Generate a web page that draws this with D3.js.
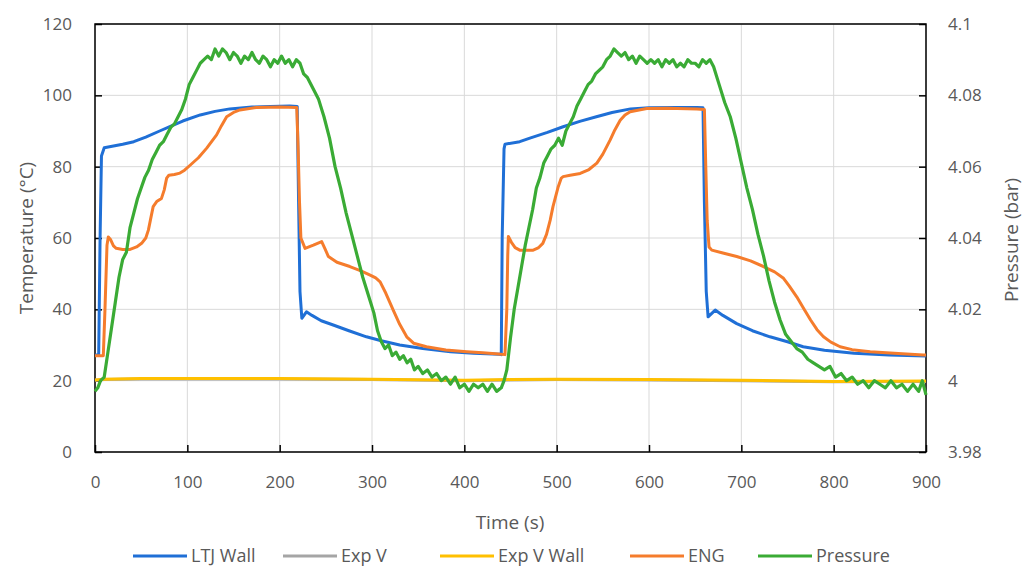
<!DOCTYPE html>
<html><head><meta charset="utf-8">
<script src="https://cdn.jsdelivr.net/npm/d3@7"></script>
<style>body{margin:0;background:#fff}svg{display:block}text{font-family:"Open Sans",sans-serif;fill:#595959}</style>
</head><body>
<svg id="c" width="1024" height="568"></svg>
<script>
const xTicks=[0,100,200,300,400,500,600,700,800,900];
const yTicks=[0,20,40,60,80,100,120];
const pTicks=[3.98,4.00,4.02,4.04,4.06,4.08,4.10];
const pTickLabels=["3.98","4","4.02","4.04","4.06","4.08","4.1"];
const seriesNames=["LTJ Wall","Exp V","Exp V Wall","ENG","Pressure"];
const seriesColors=["#1f6fd6","#a5a5a5","#ffc000","#f57c2c","#3aab35"];

const ltjT=[0,4,5.5,7,10,20,30,42,55,70,81,95,114,130,146,170,190,211,219,220.5,222,224,229,235,245,258,275,294,310,330,355,385,410,438,440,441,443,444,460,471,490,507,525,543,560,580,600,630,652,658.5,660,662,664,671.7,680,695,712,731,750,767,790,822,860,900];
const ltjV=[27.2,27.2,60,83,85.3,85.8,86.3,87,88.3,90,91.2,92.8,94.5,95.5,96.2,96.7,96.9,97,96.9,70,45,37.5,39.3,38.3,36.8,35.6,34,32.3,31.2,30,29,28.1,27.7,27.4,27.3,60,85,86.3,87,88,89.6,91.2,92.7,94,95.2,96.2,96.5,96.6,96.6,96.5,70,45,37.9,39.8,38.3,36,34,32.3,30.9,29.5,28.5,27.7,27.2,26.9];

const expVT=[0,10,50,100,200,300,400,450,500,600,700,800,900];
const expVV=[20.1,20.3,20.5,20.5,20.5,20.3,20.0,20.2,20.3,20.2,20.0,19.7,19.8];
const expVWallT=[0,10,50,100,200,300,400,450,500,600,700,800,900];
const expVWallV=[20.2,20.4,20.6,20.6,20.6,20.4,20.1,20.3,20.4,20.3,20.1,19.8,19.9];

const engT=[0,9,10.8,13,14.4,17,20,23,30,38,45,50.5,55,57.8,60,63,66.8,72,75,77.6,80,86,92,97,103,112,121,131.7,137,142.6,150,157,175,200,218.5,220,221.5,223,227.5,236.5,245.5,249,252.8,262,276,288,298,304,308.8,315,323,330,337.6,345,359,380,402.7,420,437,444,446,447,447.7,451,455,460,474.6,480,485,489,493,496,501.7,505,507,514.6,525.5,535,543.5,550,558,563,568.8,574,579.6,597.6,620,652,660,661.5,663,665,668,680,695,710,724,736,745.7,752,760,768,775,782,789,797,807,820,839.6,870,897,900];
const engV=[27,27,40,58,60.3,59.5,57.8,57.1,56.8,56.8,57.5,58.5,60,62.2,65,68.8,70.2,71.1,73.5,76.8,77.6,77.8,78.2,79,80.4,82.5,85.2,88.9,91.5,94,95.2,95.9,96.6,96.7,96.6,85,70,60,57.1,58,59,57,54.8,53.2,52,50.8,49.6,48.8,47.7,44.5,39.8,35.8,32.3,30.5,29.5,28.6,28.1,27.8,27.5,27.3,40,55,60.4,58.8,57.3,56.6,56.6,57.2,58.5,61,65,68.8,74.4,76.8,77.2,77.6,78.1,79.2,81,83.5,87.5,90.3,93,94.5,95.4,96.3,96.4,96.2,96,80,65,57.5,56.6,55.8,54.8,53.6,52,50.5,48.7,46.5,43.5,40,37,34.3,32.3,30.8,29.5,28.7,28.1,27.6,27.2,27.2];

const presT=[0,3,6,10,14,18,22,26,30,34,38,42,46,50,54,58,62,66,70,74,78,82,86,90,94,98,102,106,110,114,118,122,126,130,134,138,142,146,150,154,158,162,166,170,174,178,182,186,190,194,198,202,206,210,214,218,222,226,230,236,242,248,254,260,266,272,278,284,290,296,302,306,310,314,318,322,326,330,334,338,342,346,350,355,360,365,370,375,380,385,390,395,400,405,410,415,420,425,430,435,440,443,446,450,454,458,462,466,470,474,478,482,486,490,494,498,502,506,510,514,518,522,526,530,534,538,542,546,550,554,558,562,566,570,574,578,582,586,590,594,598,602,606,610,614,618,622,626,630,634,638,642,646,650,654,658,662,666,670,676,682,688,694,700,706,712,718,724,730,736,742,748,754,760,766,772,778,784,790,796,802,808,814,820,826,832,838,844,850,856,862,868,874,880,886,892,896,900];
const presV=[3.997,3.998,4.000,4.001,4.008,4.015,4.022,4.029,4.034,4.036,4.043,4.047,4.051,4.054,4.057,4.059,4.062,4.064,4.066,4.067,4.069,4.071,4.072,4.074,4.076,4.079,4.083,4.085,4.087,4.089,4.090,4.091,4.090,4.093,4.091,4.093,4.092,4.090,4.092,4.091,4.089,4.091,4.090,4.092,4.090,4.089,4.091,4.090,4.088,4.090,4.089,4.091,4.089,4.090,4.088,4.090,4.089,4.086,4.085,4.082,4.079,4.074,4.068,4.060,4.054,4.047,4.041,4.035,4.029,4.024,4.019,4.014,4.011,4.009,4.010,4.007,4.008,4.006,4.007,4.005,4.006,4.003,4.004,4.002,4.003,4.001,4.002,4.000,4.001,3.999,4.001,3.998,3.999,3.997,3.999,3.998,3.999,3.997,3.999,3.997,3.998,4.000,4.003,4.012,4.020,4.026,4.032,4.038,4.043,4.048,4.054,4.057,4.061,4.063,4.065,4.066,4.068,4.066,4.070,4.072,4.074,4.077,4.079,4.081,4.083,4.084,4.086,4.087,4.088,4.090,4.091,4.093,4.092,4.091,4.092,4.090,4.091,4.089,4.091,4.090,4.089,4.090,4.089,4.090,4.088,4.090,4.089,4.090,4.088,4.089,4.088,4.090,4.089,4.089,4.088,4.090,4.089,4.090,4.088,4.083,4.078,4.074,4.068,4.061,4.054,4.048,4.041,4.035,4.028,4.022,4.017,4.013,4.011,4.009,4.008,4.006,4.005,4.004,4.003,4.004,4.001,4.002,4.000,4.001,3.999,4.000,3.998,4.000,3.999,3.998,4.000,3.998,3.999,3.997,3.999,3.997,4.000,3.996];

const svg=d3.select("#c");
const L=95,R=926,T=24,B=452;
const x=d3.scaleLinear().domain([0,900]).range([L,R]);
const y=d3.scaleLinear().domain([0,120]).range([B,T]);
const yp=d3.scaleLinear().domain([3.98,4.10]).range([B,T]);

// grid
const g=svg.append("g");
g.selectAll(".hg").data(yTicks).join("line").attr("x1",L).attr("x2",R).attr("y1",d=>y(d)).attr("y2",d=>y(d)).attr("stroke","#d9d9d9").attr("stroke-width",1);
g.selectAll(".vg").data(xTicks).join("line").attr("y1",T).attr("y2",B).attr("x1",d=>x(d)).attr("x2",d=>x(d)).attr("stroke","#d9d9d9").attr("stroke-width",1);

// axes
const ax=svg.append("g").attr("transform",`translate(0,${B})`).call(d3.axisBottom(x).tickValues(xTicks).tickSize(-7).tickPadding(24).tickFormat(d3.format("d")));
const ay=svg.append("g").attr("transform",`translate(${L},0)`).call(d3.axisLeft(y).tickValues(yTicks).tickSize(-7).tickPadding(23));
const ar=svg.append("g").attr("transform",`translate(${R},0)`).call(d3.axisRight(yp).tickValues(pTicks).tickSize(-7).tickPadding(22).tickFormat((d,i)=>pTickLabels[i]));
[ax,ay,ar].forEach(a=>{a.select(".domain").remove();a.selectAll("line").attr("stroke","#000").attr("stroke-width",1.5);a.selectAll("text").attr("font-size",17).attr("fill","#595959").attr("font-family","Open Sans, sans-serif");});
svg.append("rect").attr("x",L).attr("y",T).attr("width",R-L).attr("height",B-T).attr("fill","none").attr("stroke","#000").attr("stroke-width",1.5);

// lines
const mk=(ts,vs)=>ts.map((t,i)=>[t,vs[i]]);
const lineT=d3.line().x(d=>x(d[0])).y(d=>y(d[1]));
const lineP=d3.line().x(d=>x(d[0])).y(d=>yp(d[1]));
const plot=svg.append("g");
plot.append("path").datum(mk(expVT,expVV)).attr("d",lineT).attr("fill","none").attr("stroke",seriesColors[1]).attr("stroke-width",3);
plot.append("path").datum(mk(expVWallT,expVWallV)).attr("d",lineT).attr("fill","none").attr("stroke",seriesColors[2]).attr("stroke-width",3);
plot.append("path").datum(mk(ltjT,ltjV)).attr("d",lineT).attr("fill","none").attr("stroke",seriesColors[0]).attr("stroke-width",3).attr("stroke-linejoin","round");
plot.append("path").datum(mk(engT,engV)).attr("d",lineT).attr("fill","none").attr("stroke",seriesColors[3]).attr("stroke-width",3).attr("stroke-linejoin","round");
plot.append("path").datum(mk(presT,presV)).attr("d",lineP).attr("fill","none").attr("stroke",seriesColors[4]).attr("stroke-width",3.2).attr("stroke-linejoin","round");

// axis titles
svg.append("text").attr("x",510).attr("y",529).attr("text-anchor","middle").attr("font-size",19).text("Time (s)");
svg.append("text").attr("transform","translate(33,238) rotate(-90)").attr("text-anchor","middle").attr("font-size",19).text("Temperature (°C)");
svg.append("text").attr("transform","translate(1018,240) rotate(-90)").attr("text-anchor","middle").attr("font-size",19).text("Pressure (bar)");

// legend
const legX=[133,283,440,630,758];
const lg=svg.append("g");
seriesNames.forEach((n,i)=>{
  lg.append("line").attr("x1",legX[i]).attr("x2",legX[i]+54).attr("y1",556).attr("y2",556).attr("stroke",seriesColors[i]).attr("stroke-width",3);
  lg.append("text").attr("x",legX[i]+58).attr("y",562).attr("font-size",18).text(n);
});
</script>
</body></html>
